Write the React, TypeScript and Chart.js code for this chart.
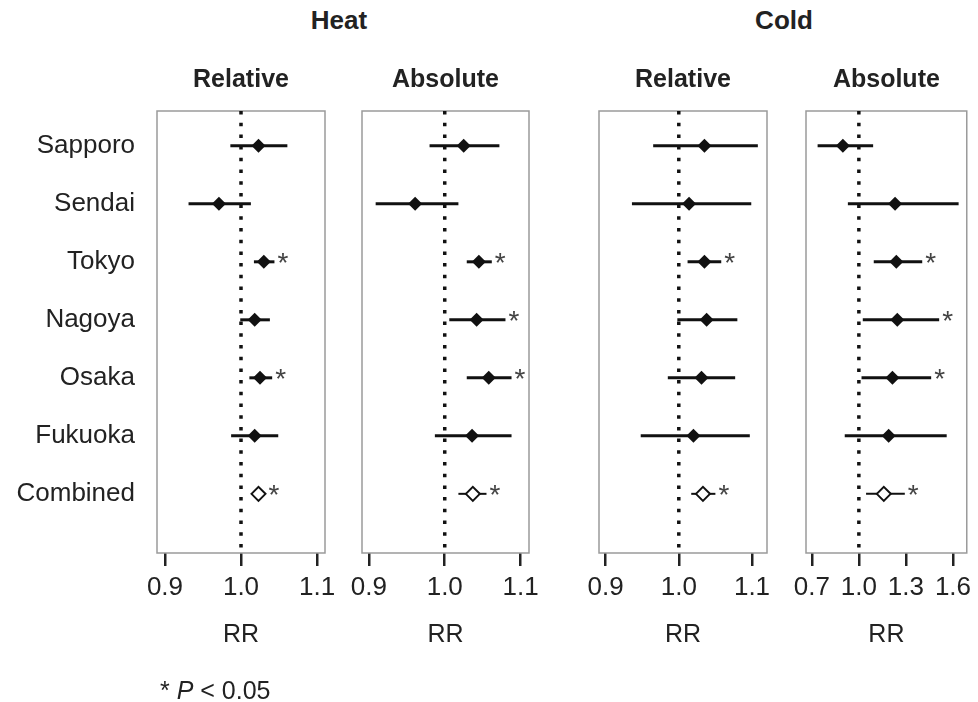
import React, { useEffect, useRef } from 'react';
import { Chart, registerables } from 'chart.js';

Chart.register(...registerables);

const FONT = "'Liberation Sans', Arial, Helvetica, sans-serif";
Chart.defaults.font.family = FONT;

const CITIES = ['Sapporo', 'Sendai', 'Tokyo', 'Nagoya', 'Osaka', 'Fukuoka', 'Combined'];

const HEAT_REL_RR = [1.023, 0.971, 1.030, 1.018, 1.025, 1.018, 1.023];
const HEAT_REL_LO = [0.986, 0.931, 1.017, 0.999, 1.011, 0.987, 1.017];
const HEAT_REL_HI = [1.061, 1.013, 1.044, 1.038, 1.041, 1.049, 1.029];
const HEAT_REL_SIG = [false, false, true, false, true, false, true];

const HEAT_ABS_RR = [1.025, 0.961, 1.045, 1.042, 1.058, 1.036, 1.037];
const HEAT_ABS_LO = [0.980, 0.909, 1.029, 1.006, 1.029, 0.987, 1.018];
const HEAT_ABS_HI = [1.072, 1.018, 1.062, 1.080, 1.088, 1.088, 1.055];
const HEAT_ABS_SIG = [false, false, true, true, true, false, true];

const COLD_REL_RR = [1.035, 1.014, 1.035, 1.038, 1.031, 1.020, 1.033];
const COLD_REL_LO = [0.965, 0.936, 1.012, 0.998, 0.985, 0.948, 1.017];
const COLD_REL_HI = [1.108, 1.099, 1.058, 1.080, 1.077, 1.097, 1.050];
const COLD_REL_SIG = [false, false, true, false, false, false, true];

const COLD_ABS_RR = [0.898, 1.231, 1.239, 1.245, 1.214, 1.190, 1.159];
const COLD_ABS_LO = [0.737, 0.930, 1.095, 1.025, 1.017, 0.910, 1.046];
const COLD_ABS_HI = [1.091, 1.636, 1.404, 1.512, 1.461, 1.560, 1.293];
const COLD_ABS_SIG = [false, false, true, true, true, false, true];

const TICKS_NARROW = [0.9, 1.0, 1.1];
const TICKS_WIDE = [0.7, 1.0, 1.3, 1.6];
const NULL_RR = 1.0;

const Y_MIN = 0.4;
const Y_MAX = 8.02;

type PanelProps = {
  boxLeft: number;
  boxRight: number;
  padL: number;
  padR: number;
  title: string;
  xMin: number;
  xMax: number;
  ticks: number[];
  rr: number[];
  lo: number[];
  hi: number[];
  sig: boolean[];
  showLabels: boolean;
};

function Panel(p: PanelProps) {
  const ref = useRef<HTMLCanvasElement>(null);
  const width = p.boxRight - p.boxLeft + p.padL + p.padR;
  const height = 702;

  useEffect(() => {
    const n = CITIES.length;
    const rows = CITIES.map((_, i) => i + 1);
    const errorSets = rows.map((row, i) => ({
      type: 'line' as const,
      data: [
        { x: p.lo[i], y: row },
        { x: p.hi[i], y: row },
      ],
      borderColor: '#111',
      borderWidth: i === n - 1 ? 2 : 3,
      pointRadius: 0,
      borderCapStyle: 'butt' as const,
      order: 2,
    }));

    const boxPlugin = {
      id: 'box',
      beforeDatasetsDraw(chart: any) {
        const { ctx, chartArea: a } = chart;
        ctx.save();
        ctx.strokeStyle = '#9a9a9a';
        ctx.lineWidth = 1.5;
        ctx.strokeRect(a.left, a.top, a.right - a.left, a.bottom - a.top);
        ctx.restore();
      },
    };

    const starPlugin = {
      id: 'stars',
      afterDatasetsDraw(chart: any) {
        const { ctx } = chart;
        const xs = chart.scales.x;
        const ys = chart.scales.y;
        ctx.save();
        ctx.font = `28px ${FONT}`;
        ctx.fillStyle = '#444';
        ctx.textAlign = 'left';
        ctx.textBaseline = 'alphabetic';
        p.sig.forEach((s, i) => {
          if (!s) return;
          const px = Math.max(xs.getPixelForValue(p.hi[i]), xs.getPixelForValue(p.rr[i]) + 7) + 3;
          ctx.fillText('*', px, ys.getPixelForValue(i + 1) + 10.5);
        });
        ctx.restore();
      },
    };

    const yScale: any = {
      type: 'linear',
      reverse: true,
      min: Y_MIN,
      max: Y_MAX,
      display: p.showLabels,
      afterBuildTicks: (ax: any) => {
        ax.ticks = rows.map((v) => ({ value: v }));
      },
      grid: { display: false, drawTicks: false },
      border: { display: false },
      ticks: {
        font: { size: 26 },
        color: '#222',
        padding: 22,
        callback: (v: any) => CITIES[Math.round(Number(v)) - 1] ?? '',
      },
    };
    if (p.showLabels) {
      yScale.afterFit = (ax: any) => {
        ax.width = p.padL;
      };
    }

    const chart = new Chart(ref.current as HTMLCanvasElement, {
      type: 'scatter',
      data: {
        datasets: [
          {
            type: 'scatter',
            data: rows.slice(0, n - 1).map((row, i) => ({ x: p.rr[i], y: row })),
            pointStyle: 'rectRot',
            pointRadius: 7,
            backgroundColor: '#111',
            borderColor: '#111',
            borderWidth: 0,
            order: 0,
          },
          {
            type: 'scatter',
            data: [{ x: p.rr[n - 1], y: n }],
            pointStyle: 'rectRot',
            pointRadius: 7,
            backgroundColor: '#fff',
            borderColor: '#111',
            borderWidth: 2,
            order: 0,
          },
          ...errorSets,
          {
            type: 'line',
            data: [
              { x: NULL_RR, y: Y_MIN },
              { x: NULL_RR, y: Y_MAX },
            ],
            borderColor: '#111',
            borderWidth: 3.5,
            borderDash: [3.5, 8.2],
            borderCapStyle: 'butt',
            pointRadius: 0,
            order: 3,
          },
        ] as any,
      },
      options: {
        responsive: false,
        maintainAspectRatio: false,
        animation: false,
        events: [],
        layout: { padding: { left: p.showLabels ? 0 : p.padL, right: p.padR, top: 0, bottom: 0 } },
        plugins: {
          legend: { display: false },
          tooltip: { enabled: false },
          title: {
            display: true,
            fullSize: false,
            text: p.title,
            font: { size: 25, weight: 'bold' },
            color: '#222',
            padding: { top: 65, bottom: 16 },
          },
        },
        scales: {
          x: {
            type: 'linear',
            position: 'bottom',
            min: p.xMin,
            max: p.xMax,
            afterBuildTicks: (ax: any) => {
              ax.ticks = p.ticks.map((v) => ({ value: v }));
            },
            afterFit: (ax: any) => {
              ax.height = 149;
            },
            grid: {
              display: true,
              drawOnChartArea: false,
              drawTicks: true,
              tickLength: 13,
              color: '#222',
              lineWidth: 2.5,
            },
            border: { display: false },
            ticks: {
              font: { size: 26 },
              color: '#222',
              padding: 6,
              autoSkip: false,
              maxRotation: 0,
              callback: (v: any) => Number(v).toFixed(1),
            },
            title: {
              display: true,
              text: 'RR',
              font: { size: 25 },
              color: '#222',
              padding: { top: 0, bottom: 52 },
            },
          } as any,
          y: yScale,
        },
      },
      plugins: [boxPlugin, starPlugin],
    });
    return () => chart.destroy();
  }, []);

  return (
    <canvas
      ref={ref}
      width={width}
      height={height}
      style={{
        position: 'absolute',
        left: p.boxLeft - p.padL,
        top: 0,
        width,
        height,
      }}
    />
  );
}

export default function App() {
  const textStyle: React.CSSProperties = {
    position: 'absolute',
    fontFamily: FONT,
    color: '#222',
    whiteSpace: 'nowrap',
  };
  return (
    <div style={{ position: 'absolute', left: 0, top: 0, width: 978, height: 702, background: '#fff', overflow: 'hidden' }}>
      <div style={{ ...textStyle, left: 239, width: 200, top: 5, lineHeight: '30px', fontSize: 26, fontWeight: 'bold', textAlign: 'center' }}>Heat</div>
      <div style={{ ...textStyle, left: 684, width: 200, top: 5, lineHeight: '30px', fontSize: 26, fontWeight: 'bold', textAlign: 'center' }}>Cold</div>
      <Panel boxLeft={157} boxRight={325} padL={157} padR={25} title="Relative" xMin={0.8895} xMax={1.1105} ticks={TICKS_NARROW} rr={HEAT_REL_RR} lo={HEAT_REL_LO} hi={HEAT_REL_HI} sig={HEAT_REL_SIG} showLabels={true} />
      <Panel boxLeft={362} boxRight={529} padL={25} padR={25} title="Absolute" xMin={0.891} xMax={1.111} ticks={TICKS_NARROW} rr={HEAT_ABS_RR} lo={HEAT_ABS_LO} hi={HEAT_ABS_HI} sig={HEAT_ABS_SIG} showLabels={false} />
      <Panel boxLeft={599} boxRight={767} padL={25} padR={25} title="Relative" xMin={0.891} xMax={1.1205} ticks={TICKS_NARROW} rr={COLD_REL_RR} lo={COLD_REL_LO} hi={COLD_REL_HI} sig={COLD_REL_SIG} showLabels={false} />
      <Panel boxLeft={806} boxRight={972} padL={25} padR={6} title="Absolute" xMin={0.663} xMax={1.688} ticks={TICKS_WIDE} rr={COLD_ABS_RR} lo={COLD_ABS_LO} hi={COLD_ABS_HI} sig={COLD_ABS_SIG} showLabels={false} />
      <div style={{ ...textStyle, left: 160, top: 675, lineHeight: '30px', fontSize: 25 }}>
        * <i>P</i> &lt; 0.05
      </div>
    </div>
  );
}
